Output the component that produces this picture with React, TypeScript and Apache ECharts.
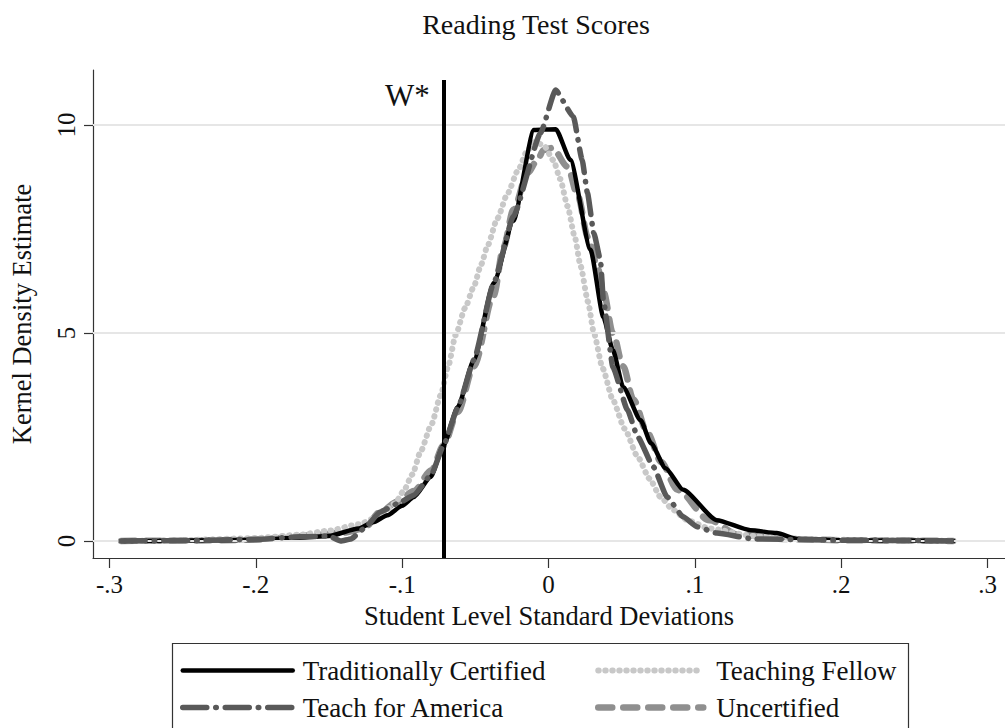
import React, { useEffect, useRef } from "react";
import * as echarts from "echarts";

// Traditionally Certified
const tcX = [-0.292, -0.25, -0.2, -0.17, -0.15, -0.13, -0.12, -0.11, -0.1, -0.092, -0.0805, -0.0717, -0.062, -0.051, -0.0375, -0.024, -0.01, 0.005, 0.015, 0.0287, 0.0375, 0.044, 0.051, 0.063, 0.07, 0.08, 0.092, 0.115, 0.138, 0.156, 0.17, 0.2, 0.25, 0.2765];
const tcY = [0, 0.01, 0.03, 0.08, 0.12, 0.3, 0.45, 0.62, 0.85, 1.06, 1.54, 2.3, 3.22, 4.35, 6.2, 7.7, 9.88, 9.9, 9.16, 7.0, 5.38, 4.59, 3.7, 2.9, 2.35, 1.75, 1.23, 0.5, 0.26, 0.19, 0.05, 0.02, 0.01, 0];

// Teaching Fellow
const tfX = [-0.292, -0.25, -0.2, -0.17, -0.15, -0.13, -0.115, -0.105, -0.099, -0.093, -0.0874, -0.08, -0.0737, -0.0685, -0.0635, -0.057, -0.0512, -0.046, -0.0416, -0.035, -0.028, -0.021, -0.0143, -0.009, -0.003, 0.0034, 0.008, 0.013, 0.018, 0.022, 0.027, 0.031, 0.037, 0.044, 0.052, 0.061, 0.069, 0.0765, 0.085, 0.095, 0.11, 0.14, 0.18, 0.22, 0.26, 0.2765];
const tfY = [0, 0.02, 0.07, 0.15, 0.25, 0.4, 0.6, 0.9, 1.2, 1.6, 2.15, 2.8, 3.5, 4.2, 4.95, 5.6, 6.1, 6.65, 7.1, 7.75, 8.35, 8.9, 9.4, 9.6, 9.5, 9.15, 8.7, 8.05, 7.3, 6.6, 5.75, 5.0, 4.15, 3.39, 2.7, 2.02, 1.5, 1.06, 0.75, 0.5, 0.3, 0.12, 0.04, 0.02, 0.01, 0];

// Teach for America
const tfaX = [-0.292, -0.25, -0.2, -0.17, -0.15, -0.142, -0.135, -0.126, -0.115, -0.103, -0.092, -0.08, -0.0717, -0.062, -0.051, -0.0375, -0.024, -0.0055, 0.0048, 0.017, 0.023, 0.0266, 0.031, 0.0355, 0.0375, 0.044, 0.054, 0.061, 0.0717, 0.081, 0.092, 0.1017, 0.115, 0.14, 0.2, 0.25, 0.2765];
const tfaY = [0, 0.01, 0.04, 0.1, 0.12, 0.0, 0.05, 0.3, 0.7, 0.9, 1.1, 1.6, 2.3, 3.2, 4.35, 6.2, 7.8, 9.8, 10.84, 10.2, 9.16, 8.37, 7.4, 6.75, 5.79, 4.18, 3.15, 2.5, 1.78, 1.06, 0.58, 0.34, 0.19, 0.05, 0.02, 0.01, 0];

// Uncertified
const ucX = [-0.292, -0.25, -0.2, -0.183, -0.16, -0.14, -0.126, -0.115, -0.103, -0.092, -0.08, -0.0717, -0.062, -0.051, -0.0375, -0.0307, -0.024, -0.0143, -0.0075, -0.0034, 0.0027, 0.013, 0.02, 0.027, 0.0334, 0.0375, 0.044, 0.051, 0.058, 0.0676, 0.077, 0.088, 0.11, 0.13, 0.16, 0.2, 0.25, 0.2765];
const ucY = [0, 0.01, 0.03, 0.07, 0.14, 0.2, 0.3, 0.7, 0.95, 1.2, 1.7, 2.3, 3.1, 4.2, 5.9, 7.07, 7.96, 8.85, 9.16, 9.4, 9.45, 9.0, 8.3, 7.3, 6.6, 6.0, 5.0, 4.2, 3.4, 2.6, 1.9, 1.23, 0.5, 0.15, 0.05, 0.02, 0.01, 0];

const xTicks = [-0.3, -0.2, -0.1, 0, 0.1, 0.2, 0.3];
const yTicks = [0, 5, 10];
const wStar = -0.0717;
const wStarTop = 11.08;

const names = ["Traditionally Certified", "Teaching Fellow", "Teach for America", "Uncertified"];

const FONT = "'Liberation Serif', 'DejaVu Serif', serif";

const zip = (xs: number[], ys: number[]) => xs.map((x, i) => [x, ys[i]]);

const fmtX = (v: number) => {
  if (Math.abs(v) < 1e-9) return "0";
  const s = String(Math.round(Math.abs(v) * 10) / 10).replace(/^0/, "");
  return (v < 0 ? "-" : "") + s;
};

export default function App() {
  const ref = useRef<HTMLDivElement>(null);
  useEffect(() => {
    const chart = echarts.init(ref.current!, null, { renderer: "svg" });
    const xMin = (92 - 548) / 1465;
    const xMax = (1005 - 548) / 1465;
    const yMin = (541 - 558) / 41.6;
    const yMax = (541 - 70) / 41.6;
    const legendCommon = {
      orient: "vertical",
      top: 657,
      padding: 0,
      itemHeight: 14,
      itemGap: 10,
      itemStyle: { opacity: 0 },
      lineStyle: { width: "inherit", type: "inherit", cap: "inherit" },
    };
    chart.setOption({
      animation: false,
      backgroundColor: "#ffffff",
      title: {
        text: "Reading Test Scores",
        left: 531,
        top: 5,
        textAlign: "center",
        textStyle: { fontFamily: FONT, fontSize: 28, fontWeight: "normal", color: "#111" },
      },
      grid: { left: 92, top: 70, width: 913, height: 488, containLabel: false },
      xAxis: {
        type: "value",
        min: xMin,
        max: xMax,
        name: "Student Level Standard Deviations",
        nameLocation: "middle",
        nameGap: 44,
        nameTextStyle: { fontFamily: FONT, fontSize: 26.5, color: "#111", verticalAlign: "top" },
        axisLine: { show: true, onZero: false, lineStyle: { color: "#333", width: 1.2 } },
        axisTick: { show: true, length: 10, customValues: xTicks, lineStyle: { color: "#333", width: 1.2 } },
        axisLabel: { customValues: xTicks, formatter: fmtX, margin: 14, fontFamily: FONT, fontSize: 25, color: "#111" },
        splitLine: { show: false },
      },
      yAxis: {
        type: "value",
        min: yMin,
        max: yMax,
        name: "Kernel Density Estimate",
        nameLocation: "middle",
        nameGap: 58,
        nameRotate: 90,
        nameTextStyle: { fontFamily: FONT, fontSize: 26.5, color: "#111" },
        axisLine: { show: true, onZero: false, lineStyle: { color: "#333", width: 1.2 } },
        axisTick: { show: true, length: 9, customValues: yTicks, lineStyle: { color: "#333", width: 1.2 } },
        axisLabel: { customValues: yTicks, rotate: 90, margin: 14, fontFamily: FONT, fontSize: 25, color: "#111" },
        splitLine: { show: false },
      },
      legend: [
        {
          ...legendCommon,
          data: [names[0], names[2]],
          left: 180,
          itemWidth: 110,
          textStyle: { fontFamily: FONT, fontSize: 27, color: "#111", padding: [0, 0, 0, 5] },
        },
        {
          ...legendCommon,
          data: [names[1], names[3]],
          left: 595,
          itemWidth: 105,
          textStyle: { fontFamily: FONT, fontSize: 27, color: "#111", padding: [0, 0, 0, 8] },
        },
      ],
      graphic: [
        {
          type: "rect",
          shape: { x: 172.5, y: 643.5, width: 736, height: 100 },
          style: { fill: "none", stroke: "#333", lineWidth: 1.2 },
          z: 0,
        },
        {
          type: "text",
          x: 385,
          y: 80,
          style: { text: "W*", fontFamily: FONT, fontSize: 31, fill: "#111" },
          z: 10,
        },
      ],
      series: [
        {
          name: "grid",
          type: "line",
          data: [],
          silent: true,
          z: 1,
          markLine: {
            silent: true,
            symbol: "none",
            label: { show: false },
            lineStyle: { color: "#e6e6e6", width: 2, type: "solid" },
            data: yTicks.map((v) => ({ yAxis: v })),
          },
        },
        {
          name: names[3],
          type: "line",
          data: zip(ucX, ucY),
          showSymbol: false,
          symbol: "none",
          smooth: 0.3,
          smoothMonotone: "x",
          z: 2,
          color: "#8f8f8f",
          lineStyle: { color: "#8f8f8f", width: 6.5, type: [14, 11], cap: "round" },
        },
        {
          name: names[1],
          type: "line",
          data: zip(tfX, tfY),
          showSymbol: false,
          symbol: "none",
          smooth: 0.2,
          smoothMonotone: "x",
          z: 3,
          color: "#c8c8c8",
          lineStyle: { color: "#c8c8c8", width: 6, type: [0.5, 6.5], cap: "round" },
        },
        {
          name: names[0],
          type: "line",
          data: zip(tcX, tcY),
          showSymbol: false,
          symbol: "none",
          smooth: 0.2,
          smoothMonotone: "x",
          z: 4,
          color: "#000000",
          lineStyle: { color: "#000000", width: 4.5, type: "solid", cap: "round" },
        },
        {
          name: names[2],
          type: "line",
          data: zip(tfaX, tfaY),
          showSymbol: false,
          symbol: "none",
          smooth: 0.15,
          smoothMonotone: "x",
          z: 5,
          color: "#595959",
          lineStyle: { color: "#595959", width: 5.5, type: [24, 9, 0.5, 9], cap: "round" },
        },
        {
          name: "wstar",
          type: "line",
          data: [],
          silent: true,
          z: 6,
          markLine: {
            silent: true,
            symbol: "none",
            label: { show: false },
            lineStyle: { color: "#000", width: 4, type: "solid" },
            data: [[{ coord: [wStar, yMin] }, { coord: [wStar, wStarTop] }]],
          },
        },
      ],
    });
    return () => chart.dispose();
  }, []);
  return (
    <div
      ref={ref}
      style={{ position: "fixed", left: 0, top: 0, width: 1005, height: 728, background: "#fff" }}
    />
  );
}
